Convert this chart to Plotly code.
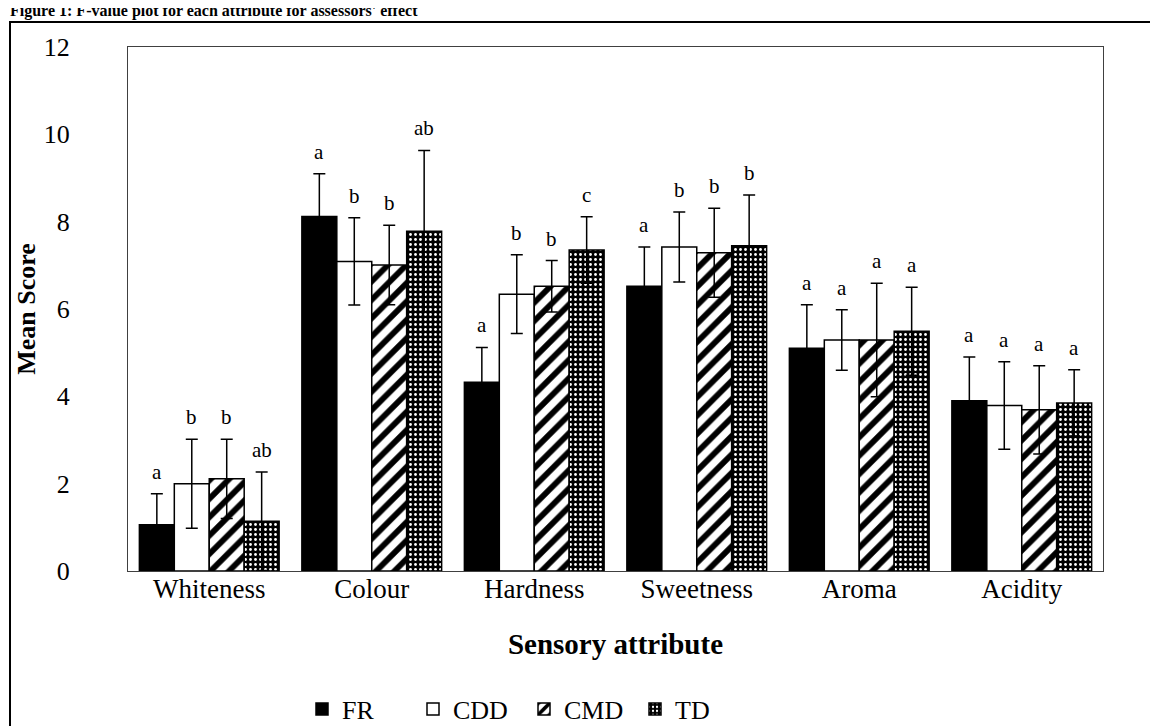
import plotly.graph_objects as go

# ---------------- data ----------------
categories = ["Whiteness", "Colour", "Hardness", "Sweetness", "Aroma", "Acidity"]
series_names = ["FR", "CDD", "CMD", "TD"]

fr_mean = [1.06, 8.12, 4.32, 6.52, 5.10, 3.90]
fr_err = [0.71, 0.98, 0.80, 0.90, 1.00, 1.00]
cdd_mean = [2.00, 7.09, 6.34, 7.42, 5.29, 3.79]
cdd_err = [1.02, 1.00, 0.90, 0.80, 0.69, 1.00]
cmd_mean = [2.11, 7.01, 6.52, 7.29, 5.29, 3.69]
cmd_err = [0.91, 0.91, 0.59, 1.02, 1.30, 1.01]
td_mean = [1.14, 7.78, 7.35, 7.45, 5.49, 3.85]
td_err = [1.13, 1.85, 0.76, 1.16, 1.01, 0.76]

fr_letters = ["a", "a", "a", "a", "a", "a"]
cdd_letters = ["b", "b", "b", "b", "a", "a"]
cmd_letters = ["b", "b", "b", "b", "a", "a"]
td_letters = ["ab", "ab", "c", "b", "a", "a"]

y_ticks = [0, 2, 4, 6, 8, 10, 12]

title_text = "Figure 1: F-value plot for each attribute for assessors' effect"
x_title = "Sensory attribute"
y_title = "Mean Score"

# ---------------- layout constants ----------------
W, H = 1158, 726
ML, MR, MT, MB = 120, 63, 39, 163
BARGAP = 0.14
plot_w = W - ML - MR
plot_h = H - MT - MB
cat_w = plot_w / len(categories)
bar_w = cat_w * (1 - BARGAP) / len(series_names)

FONT = "Times New Roman, Liberation Serif, serif"

means = [fr_mean, cdd_mean, cmd_mean, td_mean]
errs = [fr_err, cdd_err, cmd_err, td_err]
letters = [fr_letters, cdd_letters, cmd_letters, td_letters]

styles = [
    dict(color="black", pattern=dict(shape="")),
    dict(color="white", pattern=dict(shape="")),
    dict(color="white", pattern=dict(shape="/", fgcolor="black", bgcolor="white",
                                     fgopacity=1, size=13, solidity=0.45,
                                     fillmode="replace")),
    dict(color="black", pattern=dict(shape=".", fgcolor="white", bgcolor="black",
                                     fgopacity=1, size=5, solidity=0.25,
                                     fillmode="replace")),
]

fig = go.Figure()
for name, m, e, st in zip(series_names, means, errs, styles):
    fig.add_trace(go.Bar(
        name=name, x=categories, y=m,
        marker=dict(color=st["color"], pattern=st["pattern"],
                    line=dict(color="black", width=1.5)),
        error_y=dict(type="data", array=e, visible=True, color="black",
                     thickness=1.5, width=6),
    ))

annotations = []
nser = len(series_names)
for si, (m, e, lt) in enumerate(zip(means, errs, letters)):
    shift = (si - (nser - 1) / 2) * bar_w
    for c, mv, ev, t in zip(categories, m, e, lt):
        annotations.append(dict(
            x=c, y=mv + ev, xref="x", yref="y", text=t, showarrow=False,
            xshift=shift, yshift=22, yanchor="middle",
            font=dict(family=FONT, size=21, color="black"),
        ))

# title (top slightly cut, as in reference)
annotations.append(dict(
    x=(0 - ML) / plot_w, y=1 + (MT - 14) / plot_h, xref="paper", yref="paper",
    xanchor="left", yanchor="bottom", showarrow=False, text="<b>" + title_text + "</b>",
    font=dict(family=FONT, size=16, color="black"),
))

shapes = [dict(
    type="rect", xref="paper", yref="paper",
    x0=(2 - ML) / plot_w, x1=(1153 - ML) / plot_w,
    y0=-(H + 2 - MT - plot_h) / plot_h, y1=1 + (MT - 14) / plot_h,
    line=dict(color="black", width=2), fillcolor="rgba(0,0,0,0)", layer="below",
)]

fig.update_layout(
    width=W, height=H,
    margin=dict(l=ML, r=MR, t=MT, b=MB, autoexpand=False),
    paper_bgcolor="white", plot_bgcolor="white",
    barmode="group", bargap=BARGAP, bargroupgap=0,
    font=dict(family=FONT, color="black", size=26),
    showlegend=True,
    legend=dict(orientation="h", xref="container", yref="container",
                x=516 / W, xanchor="center", y=1 - 701 / H, yanchor="middle",
                font=dict(family=FONT, size=26, color="black"),
                itemwidth=30, entrywidth=66, entrywidthmode="pixels",
                itemclick=False, traceorder="normal",
                bgcolor="rgba(0,0,0,0)"),
    annotations=annotations,
    shapes=shapes,
)

fig.update_xaxes(
    showline=True, linecolor="#404040", linewidth=1, mirror=True,
    showgrid=False, ticks="", ticklabelstandoff=-6,
    tickfont=dict(family=FONT, size=27, color="black"),
    title=dict(text="<b>" + x_title + "</b>", standoff=30,
               font=dict(family=FONT, size=29, color="black")),
)
fig.update_yaxes(
    range=[0, 12], tickvals=y_ticks, ticktext=[str(v) for v in y_ticks],
    showline=True, linecolor="#404040", linewidth=1, mirror=True,
    showgrid=False, zeroline=False, ticks="", ticklabelstandoff=52,
    tickfont=dict(family=FONT, size=26, color="black"),
    title=dict(text="<b>" + y_title + "</b>", standoff=0,
               font=dict(family=FONT, size=26, color="black")),
)

fig.write_html("out.html")
